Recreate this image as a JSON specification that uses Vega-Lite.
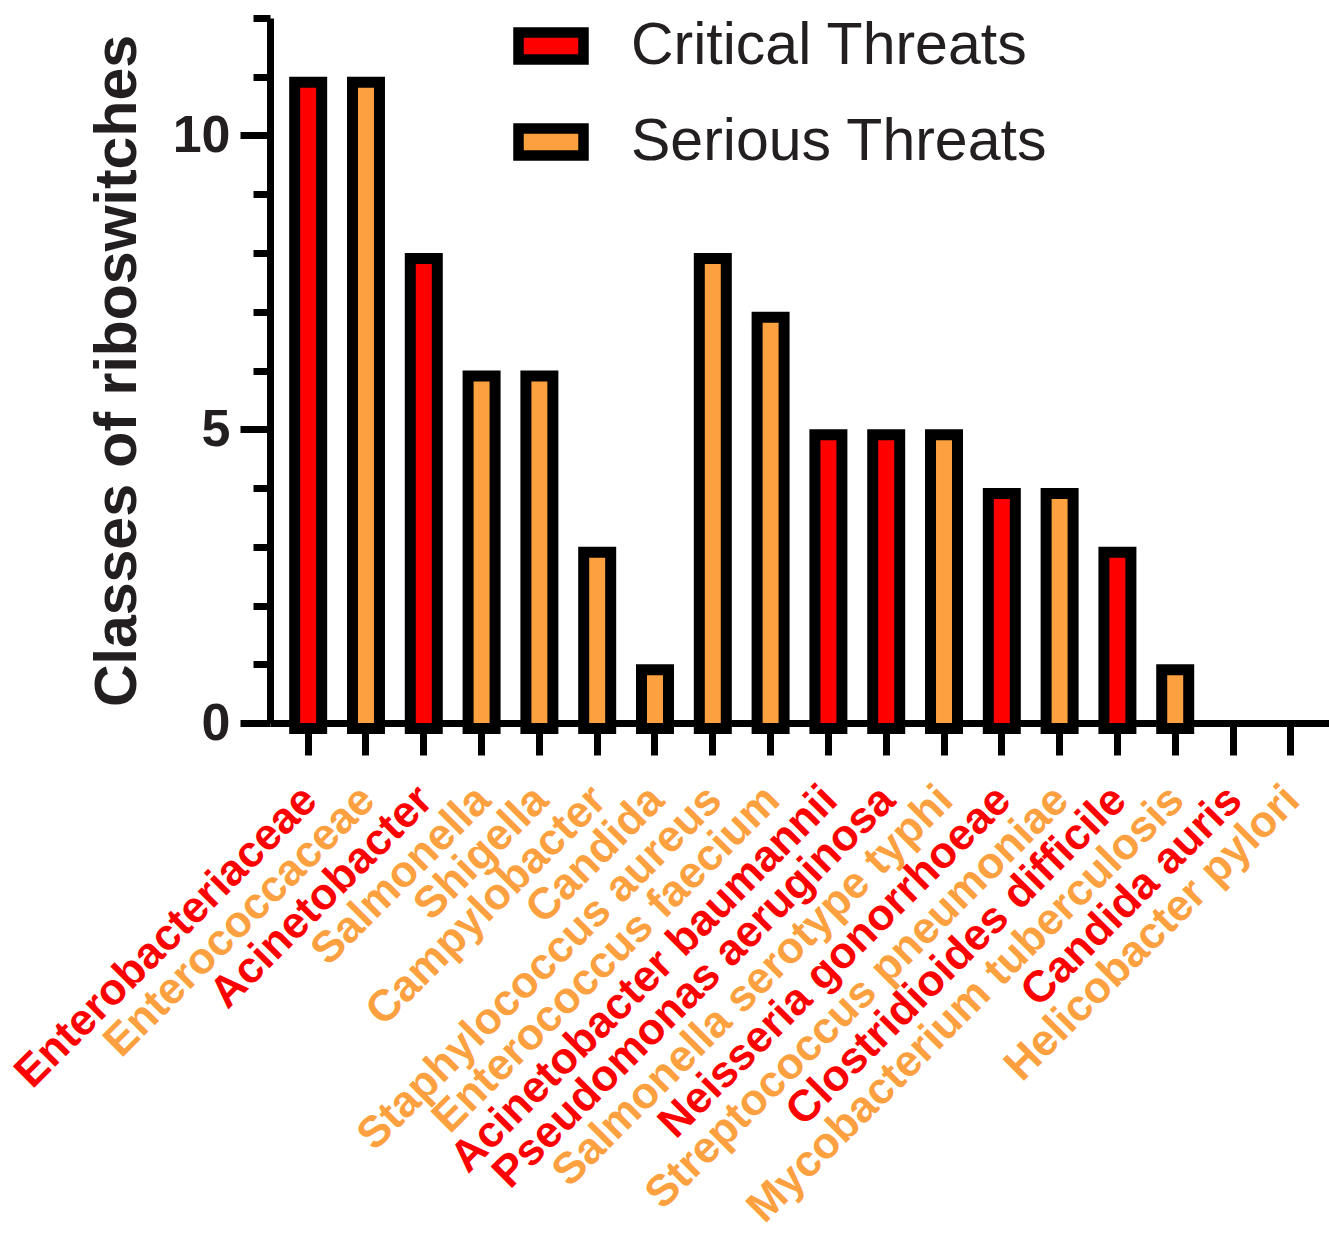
{
  "$schema": "https://vega.github.io/schema/vega-lite/v6.json",
  "autosize": {"type": "none"},
  "padding": {"left": 270, "top": 18, "right": 0, "bottom": 510},
  "width": 1059,
  "height": 705,
  "background": "white",
  "config": {
    "view": {"stroke": null},
    "font": "Liberation Sans"
  },
  "data": {
    "values": [
      {"organism": "Enterobacteriaceae", "threat": "Critical Threats", "classes": 11},
      {"organism": "Enterococcaceae", "threat": "Serious Threats", "classes": 11},
      {"organism": "Acinetobacter", "threat": "Critical Threats", "classes": 8},
      {"organism": "Salmonella", "threat": "Serious Threats", "classes": 6},
      {"organism": "Shigella", "threat": "Serious Threats", "classes": 6},
      {"organism": "Campylobacter", "threat": "Serious Threats", "classes": 3},
      {"organism": "Candida", "threat": "Serious Threats", "classes": 1},
      {"organism": "Staphylococcus aureus", "threat": "Serious Threats", "classes": 8},
      {"organism": "Enterococcus faecium", "threat": "Serious Threats", "classes": 7},
      {"organism": "Acinetobacter baumannii", "threat": "Critical Threats", "classes": 5},
      {"organism": "Pseudomonas aeruginosa", "threat": "Critical Threats", "classes": 5},
      {"organism": "Salmonella serotype typhi", "threat": "Serious Threats", "classes": 5},
      {"organism": "Neisseria gonorrhoeae", "threat": "Critical Threats", "classes": 4},
      {"organism": "Streptococcus pneumoniae", "threat": "Serious Threats", "classes": 4},
      {"organism": "Clostridioides difficile", "threat": "Critical Threats", "classes": 3},
      {"organism": "Mycobacterium tuberculosis", "threat": "Serious Threats", "classes": 1},
      {"organism": "Candida auris", "threat": "Critical Threats", "classes": 0},
      {"organism": "Helicobacter pylori", "threat": "Serious Threats", "classes": 0}
    ]
  },
  "transform": [{"filter": "datum.classes > 0"}],
  "mark": {"type": "bar", "stroke": "black", "strokeWidth": 11, "yOffset": 5.5, "y2Offset": 0, "strokeJoin": "miter"},
  "encoding": {
    "x": {
      "field": "organism",
      "type": "nominal",
      "scale": {
        "domain": ["Enterobacteriaceae", "Enterococcaceae", "Acinetobacter", "Salmonella", "Shigella", "Campylobacter", "Candida", "Staphylococcus aureus", "Enterococcus faecium", "Acinetobacter baumannii", "Pseudomonas aeruginosa", "Salmonella serotype typhi", "Neisseria gonorrhoeae", "Streptococcus pneumoniae", "Clostridioides difficile", "Mycobacterium tuberculosis", "Candida auris", "Helicobacter pylori"],
        "paddingInner": 0.533,
        "paddingOuter": 0.427
      },
      "axis": {
        "title": null,
        "domainColor": "black",
        "domainWidth": 7,
        "tickColor": "black",
        "tickWidth": 7,
        "tickSize": 32,
        "labelAngle": -45,
        "labelAlign": "right",
        "labelBaseline": "middle",
        "labelPadding": 38,
        "labelOffset": 2,
        "labelFont": "Liberation Sans",
        "labelFontWeight": "bold",
        "labelFontSize": 44,
        "labelLimit": 1000,
        "labelOverlap": false,
        "labelColor": {
          "condition": {
            "test": "indexof(['Enterobacteriaceae','Acinetobacter','Acinetobacter baumannii','Pseudomonas aeruginosa','Neisseria gonorrhoeae','Clostridioides difficile','Candida auris'], datum.value) >= 0",
            "value": "#FF0000"
          },
          "value": "#FCA040"
        }
      }
    },
    "y": {
      "field": "classes",
      "type": "quantitative",
      "scale": {"domain": [0, 12], "nice": false, "zero": true},
      "axis": {
        "title": "Classes of riboswitches",
        "titleFont": "Liberation Sans",
        "titleFontWeight": "bold",
        "titleFontSize": 59,
        "titleColor": "#231F20",
        "titlePadding": 25,
        "grid": false,
        "values": [0, 1, 2, 3, 4, 5, 6, 7, 8, 9, 10, 11, 12],
        "labelExpr": "datum.value % 5 === 0 ? datum.label : ''",
        "domainColor": "black",
        "domainWidth": 7,
        "tickColor": "black",
        "tickWidth": 7,
        "tickSize": {"condition": {"test": "datum.value % 5 === 0", "value": 30}, "value": 17},
        "labelPadding": 10,
        "labelFont": "Liberation Sans",
        "labelFontWeight": "bold",
        "labelFontSize": 52,
        "labelColor": "#231F20"
      }
    },
    "fill": {
      "field": "threat",
      "type": "nominal",
      "scale": {"domain": ["Critical Threats", "Serious Threats"], "range": ["#FF0000", "#FCA040"]},
      "legend": {
        "title": null,
        "orient": "none",
        "legendX": 243,
        "legendY": -10,
        "padding": 0,
        "symbolType": "M-1,-0.415H1V0.415H-1Z",
        "symbolSize": 4225,
        "symbolStrokeColor": "black",
        "symbolStrokeWidth": 10.5,
        "symbolOpacity": 1,
        "labelFont": "Liberation Sans",
        "labelFontSize": 59,
        "labelColor": "#231F20",
        "labelOffset": 42,
        "labelLimit": 1000,
        "rowPadding": 23
      }
    }
  }
}
